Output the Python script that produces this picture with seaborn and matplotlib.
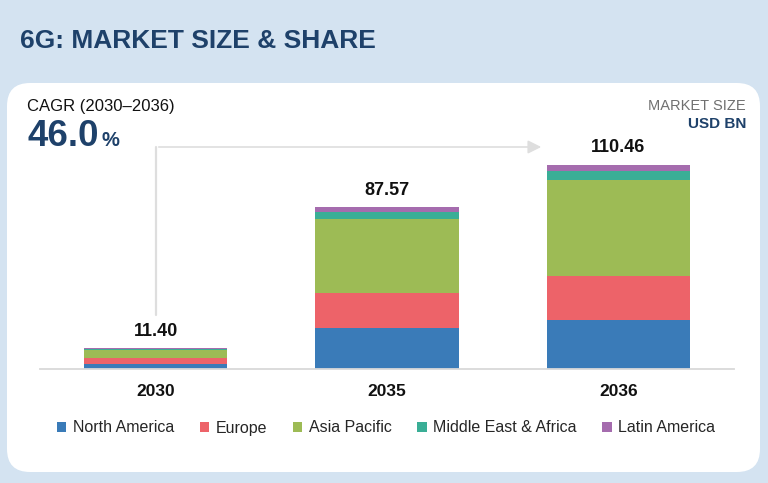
import numpy as np
import pandas as pd
import matplotlib
matplotlib.use("Agg")
import matplotlib.pyplot as plt
import seaborn as sns
from matplotlib.patches import FancyBboxPatch, Patch, FancyArrowPatch
from matplotlib.lines import Line2D

# ---- data ----
years = ["2030", "2035", "2036"]
regions = ["North America", "Europe", "Asia Pacific", "Middle East & Africa", "Latin America"]
north_america = [2.95, 22.30, 26.50]
europe = [2.90, 18.90, 23.80]
asia_pacific = [4.30, 39.80, 51.90]
middle_east_africa = [0.65, 3.80, 5.00]
latin_america = [0.60, 2.77, 3.26]
totals = [11.40, 87.57, 110.46]
total_labels = ["11.40", "87.57", "110.46"]
colors = ["#3a7bb8", "#ed6369", "#9dbb55", "#3aae96", "#a56cae"]

series = [north_america, europe, asia_pacific, middle_east_africa, latin_america]

W, H = 768, 483
sns.set_theme(style="white")
plt.rcParams['font.family'] = ['Liberation Sans', 'DejaVu Sans']

fig = plt.figure(figsize=(W / 100, H / 100), dpi=100)
fig.patch.set_facecolor("#d4e3f1")

def fx(x):
    return x / W

def fy(y):
    return 1 - y / H

# white card
card = FancyBboxPatch((fx(7), fy(472)), fx(760) - fx(7), fy(83) - fy(472),
                      boxstyle="round,pad=0,rounding_size=0.03",
                      transform=fig.transFigure, facecolor="white",
                      edgecolor="none", zorder=-5, mutation_aspect=W / H)
fig.patches.append(card)

# axes
base_y = 369
top_y = 140
ax = fig.add_axes([fx(40), fy(base_y), fx(734) - fx(40), fy(top_y) - fy(base_y)])
ax.set_facecolor("none")
ax.set_zorder(2)

cum = np.zeros(len(years))
cums = []
for s in series:
    cum = cum + np.array(s)
    cums.append(cum.copy())
for i in range(len(series) - 1, -1, -1):
    d = pd.DataFrame({"year": years, "value": cums[i]})
    sns.barplot(data=d, x="year", y="value", color=colors[i], saturation=1,
                width=0.62, ax=ax, order=years, zorder=2, linewidth=0,
                edgecolor="none")

scale_px_per_unit = 1.85
ax.set_xlim(-0.5, 2.5)
ax.set_ylim(0, (base_y - top_y) / scale_px_per_unit)
ax.set_xlabel("")
ax.set_ylabel("")
ax.set_yticks([])
for sp in ["top", "left", "right"]:
    ax.spines[sp].set_visible(False)
ax.spines["bottom"].set_color("#d9d9d9")
ax.spines["bottom"].set_linewidth(1.3)
ax.spines["bottom"].set_zorder(3)
ax.tick_params(axis="x", length=0, pad=11)
for lbl in ax.get_xticklabels():
    lbl.set_fontweight("bold")
    lbl.set_fontsize(12.5)
    lbl.set_color("#111111")

for i, (t, lab) in enumerate(zip(totals, total_labels)):
    ax.annotate(lab, (i, t), xytext=(0, 6), textcoords="offset points",
                ha="center", va="bottom", fontsize=13, fontweight="bold",
                color="#111111")

# texts
fig.text(fx(20), fy(41), "6G: MARKET SIZE & SHARE", fontsize=19, fontweight="bold",
         color="#1e416a", va="center", ha="left")
fig.text(fx(27), fy(106), "CAGR (2030–2036)", fontsize=12, color="#111111",
         va="center", ha="left")
fig.text(fx(28), fy(137), "46.0", fontsize=26.5, fontweight="bold",
         color="#1e416a", va="center", ha="left")
fig.text(fx(101), fy(141), "%", fontsize=14.5, fontweight="bold",
         color="#1e416a", va="center", ha="left")
fig.text(fx(746), fy(106), "MARKET SIZE", fontsize=10.5, color="#707070",
         va="center", ha="right")
fig.text(fx(746), fy(124), "USD BN", fontsize=11, fontweight="bold",
         color="#1e416a", va="center", ha="right")

# arrow
lc = "#dedede"
fig.lines.append(Line2D([fx(156), fx(156)], [fy(315), fy(147)], transform=fig.transFigure,
                        color=lc, lw=1.6, zorder=1))
fig.patches.append(FancyArrowPatch(
    (fx(156), fy(147)), (fx(544), fy(147)), transform=fig.transFigure,
    arrowstyle="-|>,head_length=8,head_width=4", color=lc, lw=1.2, zorder=1))

# legend
handles = [Patch(facecolor=c, edgecolor="none") for c in colors]
fig.legend(handles, regions, loc="center", bbox_to_anchor=(fx(386), fy(428)),
           ncol=5, frameon=False, fontsize=11.5, handlelength=0.6, handleheight=0.6,
           handletextpad=0.4, columnspacing=1.6)

fig.savefig("out.png", dpi=100, facecolor=fig.get_facecolor())
